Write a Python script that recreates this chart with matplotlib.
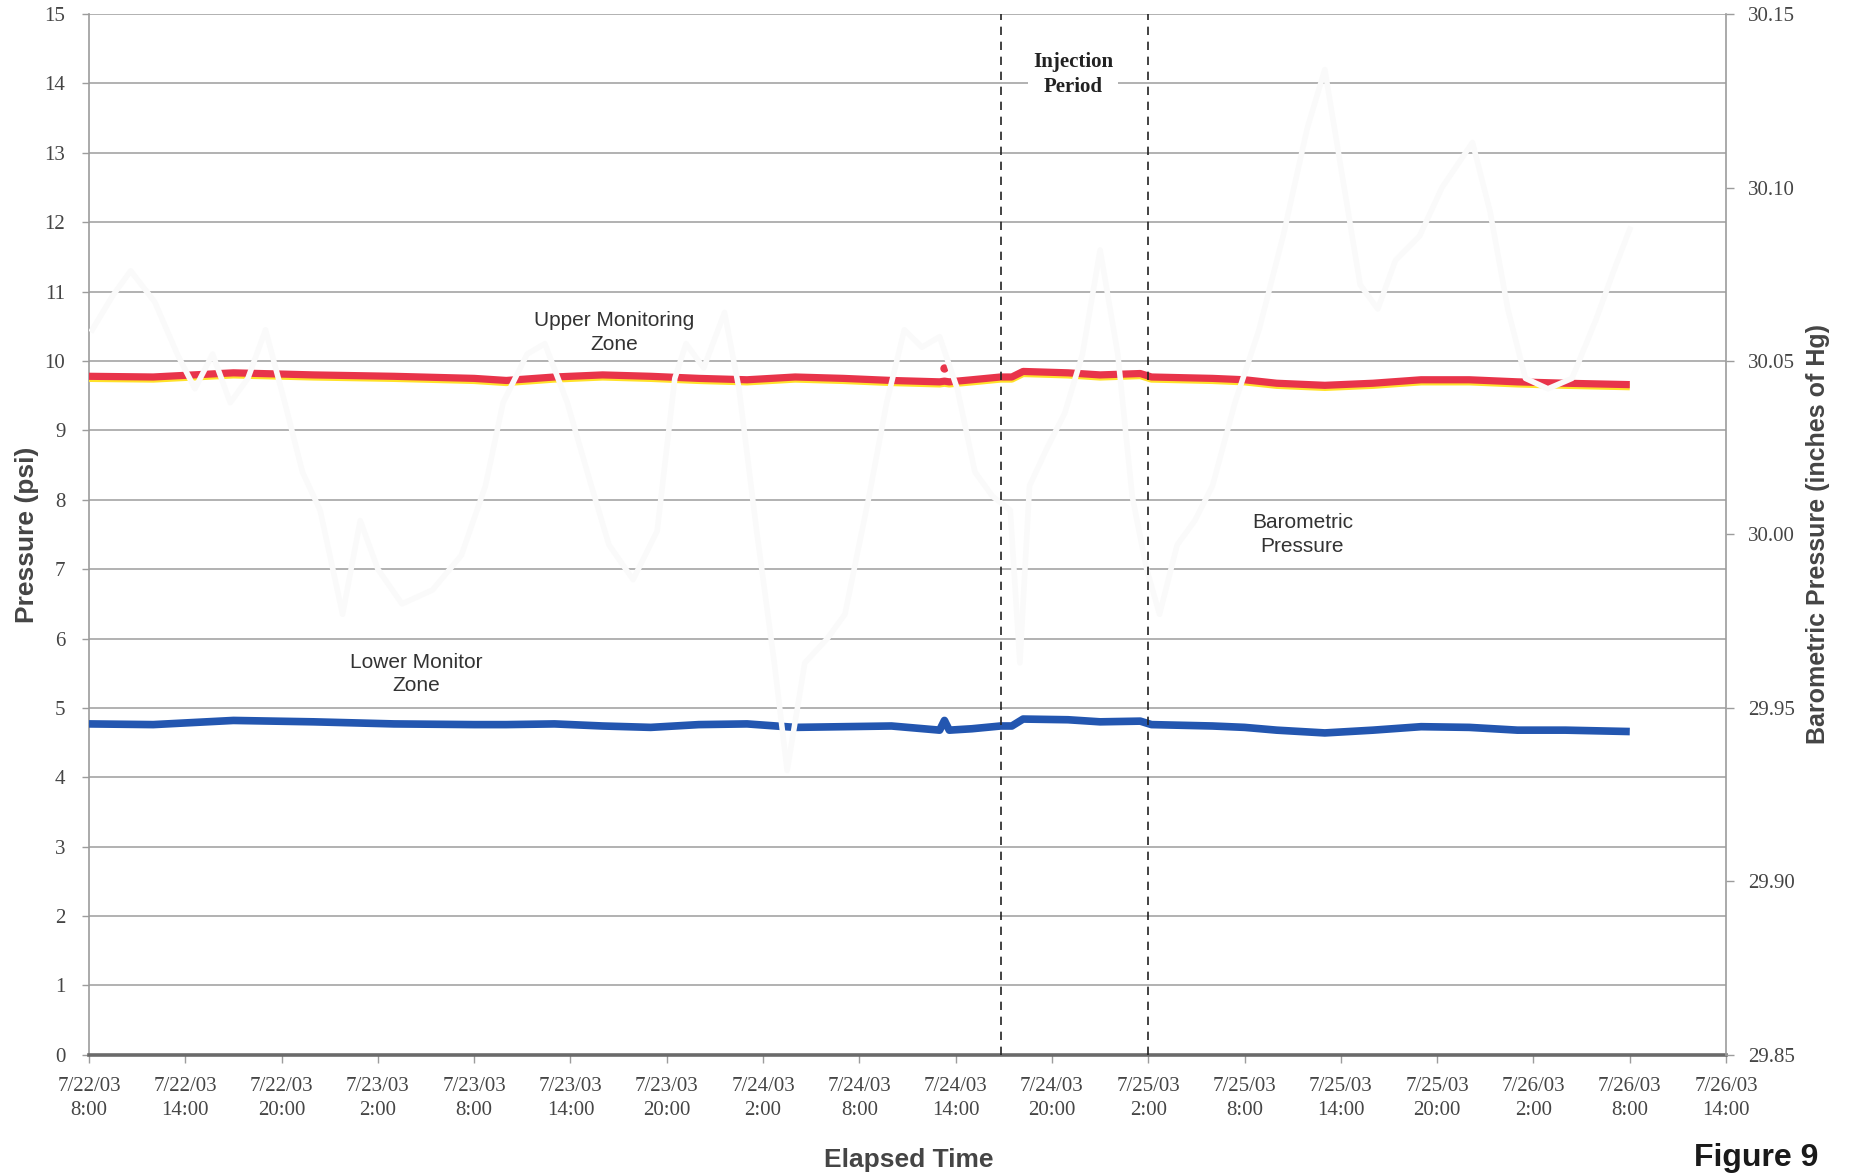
#!/usr/bin/env python3
"""
Pressure monitoring - upper / lower zones and barometric pressure
"""

import numpy as np
import pandas as pd
import matplotlib
matplotlib.use("Agg")
import matplotlib.pyplot as plt
import matplotlib.transforms as mtransforms

# Elapsed hours from 7/22/03 8:00
START = pd.Timestamp("2003-07-22 08:00")

zone_hours = [0, 4, 9, 14, 19, 24, 26, 29, 32, 35, 38, 41, 44, 47, 50, 53, 53.3, 53.6,
              55, 56.8, 57.5, 58.2, 61, 63, 65.5, 66.2, 70, 72, 74, 77, 80, 83, 86, 89, 92, 96]
upper_psi = [9.78, 9.77, 9.83, 9.80, 9.78, 9.75, 9.72, 9.77, 9.80, 9.78, 9.75, 9.73, 9.77, 9.75,
             9.72, 9.70, 9.71, 9.70, 9.73, 9.77, 9.77, 9.85, 9.83, 9.80, 9.82, 9.77, 9.75, 9.73,
             9.68, 9.65, 9.68, 9.73, 9.73, 9.70, 9.68, 9.66]
lower_psi = [4.77, 4.76, 4.82, 4.80, 4.77, 4.76, 4.76, 4.77, 4.74, 4.72, 4.76, 4.77, 4.72, 4.73,
             4.74, 4.68, 4.82, 4.68, 4.70, 4.74, 4.74, 4.84, 4.83, 4.80, 4.81, 4.76, 4.74, 4.72,
             4.68, 4.64, 4.68, 4.73, 4.72, 4.68, 4.68, 4.66]

# stray reading on the upper transducer
upper_spike_hour = [53.3]
upper_spike_psi = [9.90]

baro_hours = [0.2, 1.5, 2.6, 4.1, 5.5, 6.6, 7.7, 8.8, 9.9, 11.0, 12.2, 13.3, 14.4, 15.8, 16.9,
              18.0, 19.5, 21.4, 23.2, 24.7, 25.8, 27.3, 28.4, 29.8, 31.3, 32.4, 33.9, 35.4,
              36.5, 37.2, 38.3, 39.6, 40.5, 41.6, 42.7, 43.5, 44.6, 46.0, 47.1, 48.6, 49.7,
              50.8, 51.9, 53.0, 54.1, 55.2, 56.3, 57.4, 58.0, 58.6, 59.7, 60.8, 61.9, 63.0,
              64.1, 65.0, 65.9, 66.7, 67.8, 68.9, 70.0, 71.4, 72.9, 74.4, 75.9, 77.0, 78.1,
              79.2, 80.3, 81.4, 82.9, 84.3, 86.2, 87.3, 88.4, 89.5, 90.9, 92.4, 93.9, 95.0, 96.0]
baro_inhg = [30.059, 30.069, 30.076, 30.067, 30.052, 30.042, 30.052, 30.038, 30.045, 30.059,
             30.038, 30.018, 30.007, 29.977, 30.004, 29.990, 29.980, 29.984, 29.994, 30.014,
             30.038, 30.052, 30.055, 30.038, 30.014, 29.997, 29.987, 30.001, 30.045, 30.055,
             30.048, 30.064, 30.042, 30.001, 29.963, 29.932, 29.963, 29.970, 29.977, 30.011,
             30.038, 30.059, 30.054, 30.057, 30.042, 30.018, 30.011, 30.007, 29.963, 30.014,
             30.025, 30.035, 30.052, 30.082, 30.052, 30.011, 29.990, 29.977, 29.997, 30.004,
             30.014, 30.038, 30.059, 30.086, 30.117, 30.134, 30.103, 30.072, 30.065, 30.079,
             30.086, 30.100, 30.113, 30.093, 30.065, 30.045, 30.042, 30.045, 30.062, 30.076,
             30.088]

injection_hours = [56.8, 66.0]

tick_hours = list(range(0, 103, 6))
tick_times = [START + pd.Timedelta(hours=h) for h in tick_hours]
tick_labels = [f"{t.month}/{t.day}/{t:%y}\n{t.hour}:{t:%M}" for t in tick_times]

psi_ticks = list(range(0, 16))
baro_ticks = [29.85, 29.90, 29.95, 30.00, 30.05, 30.10, 30.15]

SERIF = "Liberation Serif"
SANS = "Liberation Sans"
GRID = "#9c9c9c"
TXT = "#454545"


def main():
    fig = plt.figure(figsize=(18.54, 11.76), dpi=100)
    ax = fig.add_axes([0.048, 0.103, 0.883, 0.885])

    ax.set_xlim(0, 102)
    ax.set_ylim(0, 15)
    ax.set_yticks(psi_ticks)
    ax.set_yticklabels([str(v) for v in psi_ticks], family=SERIF, fontsize=15, color=TXT)
    ax.set_xticks(tick_hours)
    ax.set_xticklabels(tick_labels, family=SERIF, fontsize=15, color=TXT, linespacing=1.35)
    ax.tick_params(axis="y", length=5, width=1, color=GRID, pad=12)
    ax.tick_params(axis="x", length=6, width=1, color=GRID, pad=10)

    ax.yaxis.grid(True, color=GRID, lw=1.1)
    ax.set_axisbelow(True)
    for side in ("top", "right"):
        ax.spines[side].set_visible(False)
    ax.spines["left"].set_color(GRID)
    ax.spines["left"].set_linewidth(1.2)
    ax.spines["bottom"].set_color("#6a6a6a")
    ax.spines["bottom"].set_linewidth(2.6)

    # upper zone: thin yellow lower edge under the red trace
    shift = mtransforms.offset_copy(ax.transData, fig=fig, x=0, y=-1.6, units="points")
    ax.plot(zone_hours, upper_psi, color="#ffe22a", lw=5, transform=shift,
            solid_capstyle="butt", zorder=3)
    ax.plot(zone_hours, upper_psi, color="#e8344a", lw=5.2, solid_capstyle="butt", zorder=4)
    ax.plot(upper_spike_hour, upper_spike_psi, "o", color="#e8344a", ms=5, zorder=4)
    ax.plot(zone_hours, lower_psi, color="#2356b0", lw=5.5, solid_capstyle="butt", zorder=4)

    ax.set_ylabel("Pressure (psi)", family=SANS, fontweight="bold", fontsize=19, color=TXT,
                  labelpad=4)

    ax.text(32.7, 10.41, "Upper Monitoring\nZone", ha="center", va="center", family=SANS,
            fontsize=15, color="#333333", linespacing=1.3)
    ax.text(20.4, 5.49, "Lower Monitor\nZone", ha="center", va="center", family=SANS,
            fontsize=15, color="#333333", linespacing=1.3)
    ax.text(75.6, 7.5, "Barometric\nPressure", ha="center", va="center", family=SANS,
            fontsize=15, color="#333333", linespacing=1.3)

    # barometric pressure on the right-hand scale (faint trace)
    ax2 = ax.twinx()
    ax2.set_ylim(29.85, 30.15)
    ax2.set_yticks(baro_ticks)
    ax2.set_yticklabels([f"{v:.2f}" for v in baro_ticks], family=SERIF, fontsize=15, color=TXT)
    ax2.tick_params(axis="y", length=6, width=1, color=GRID, pad=10)
    for side in ("top", "left", "bottom"):
        ax2.spines[side].set_visible(False)
    ax2.spines["right"].set_color(GRID)
    ax2.spines["right"].set_linewidth(1.2)
    ax2.plot(baro_hours, baro_inhg, color="#fafafa", lw=4, zorder=2)
    ax2.set_ylabel("Barometric Pressure (inches of Hg)", family=SANS, fontweight="bold",
                   fontsize=18, color=TXT, labelpad=8)

    for h in injection_hours:
        ax2.axvline(h, color="#222222", lw=1.2, ls=(0, (5, 4)), zorder=5)
    ax2.text(61.3, 30.1326, "Injection\nPeriod", ha="center", va="center", family=SERIF,
             fontweight="bold", fontsize=15, color="#222222", linespacing=1.3, zorder=6,
             bbox=dict(boxstyle="square,pad=0.25", facecolor="white", edgecolor="none"))

    fig.text(0.49, 0.0136, "Elapsed Time", ha="center", va="center", family=SANS,
             fontweight="bold", fontsize=19, color=TXT)
    fig.text(0.947, 0.0155, "Figure 9", ha="center", va="center", family=SANS,
             fontweight="bold", fontsize=23, color="#1a1a1a")

    fig.savefig("out.png", dpi=100, facecolor="white")
    plt.close(fig)


if __name__ == "__main__":
    main()
